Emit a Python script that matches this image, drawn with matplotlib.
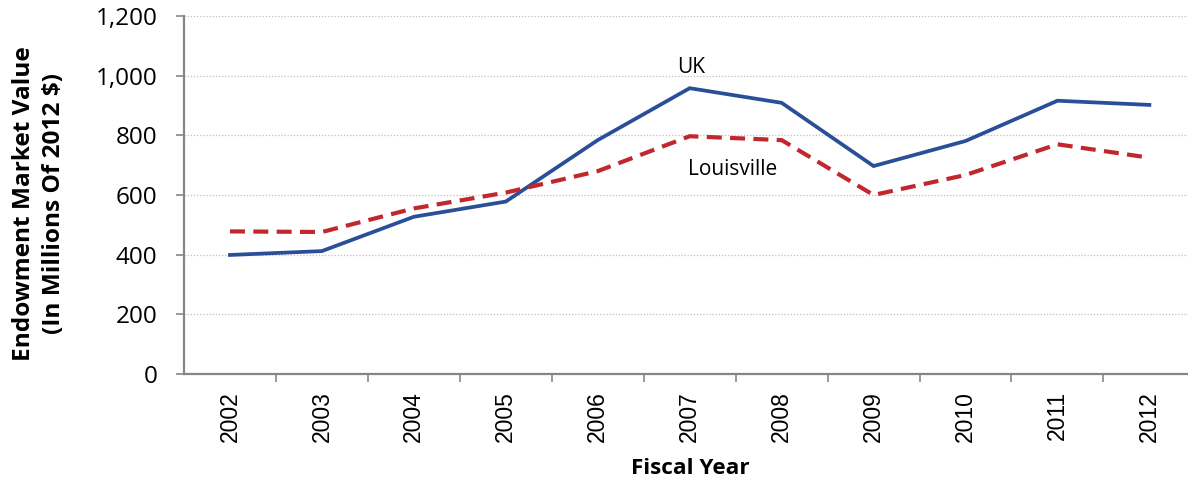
import matplotlib
matplotlib.use("Agg")
import matplotlib.pyplot as plt
from matplotlib.ticker import FuncFormatter, FixedLocator

years = ["2002", "2003", "2004", "2005", "2006", "2007", "2008", "2009", "2010", "2011", "2012"]
uk = [399, 412, 527, 578, 784, 958, 909, 697, 781, 916, 902]
louisville = [478, 476, 555, 608, 680, 797, 784, 600, 667, 770, 725]

plt.rcParams['font.family'] = ['Open Sans', 'DejaVu Sans']

W, H = 1188, 482
fig = plt.figure(figsize=(W / 100, H / 100), dpi=100)
left, right, top, bottom = 184, 1188, 16, 374
ax = fig.add_axes([left / W, 1 - bottom / H, (right - left) / W, (bottom - top) / H])

x = list(range(len(years)))
ax.plot(x, uk, color="#2A4F98", lw=2.7, solid_joinstyle="miter", zorder=3)
ax.plot(x, louisville, color="#C0282E", lw=3.0, dashes=(3.6, 2.0), zorder=3)

ax.set_ylim(0, 1200)
ax.set_xlim(-0.5, 10.42)
ax.set_yticks(range(0, 1201, 200))
ax.yaxis.set_major_formatter(FuncFormatter(lambda v, p: f"{int(v):,}"))
ax.set_xticks(x)
ax.set_xticklabels(years, rotation=90, family=["Liberation Sans", "DejaVu Sans"])
ax.xaxis.set_minor_locator(FixedLocator([i + 0.5 for i in range(len(years) - 1)]))

ax.grid(axis="y", color="#BFBFBF", linestyle=(0, (1, 1.5)), linewidth=0.9)
ax.set_axisbelow(True)

for s in ["top", "right"]:
    ax.spines[s].set_visible(False)
for s in ["left", "bottom"]:
    ax.spines[s].set_color("#868686")
    ax.spines[s].set_linewidth(1.6)

ax.tick_params(axis="y", which="major", length=6, width=1.2, color="#868686", labelsize=17.5, pad=13)
ax.tick_params(axis="x", which="major", length=0, labelsize=16.5, pad=12.5)
ax.tick_params(axis="x", which="minor", length=6, width=1.2, color="#868686")

fig.text(39 / W, 1 - 204 / H, "Endowment Market Value\n(In Millions Of 2012 $)", rotation=90,
         fontsize=17.6, fontweight="bold", ha="center", va="center", multialignment="center",
         linespacing=1.3)
fig.text(690 / W, 1 - 469 / H, "Fiscal Year", fontsize=16.2, fontweight="bold", ha="center", va="center")

ax.text(5.02, 1008, "UK", fontsize=15, ha="center", va="baseline")
ax.text(5.47, 687, "Louisville", fontsize=15, ha="center", va="center")

fig.savefig("out.png", dpi=100)
